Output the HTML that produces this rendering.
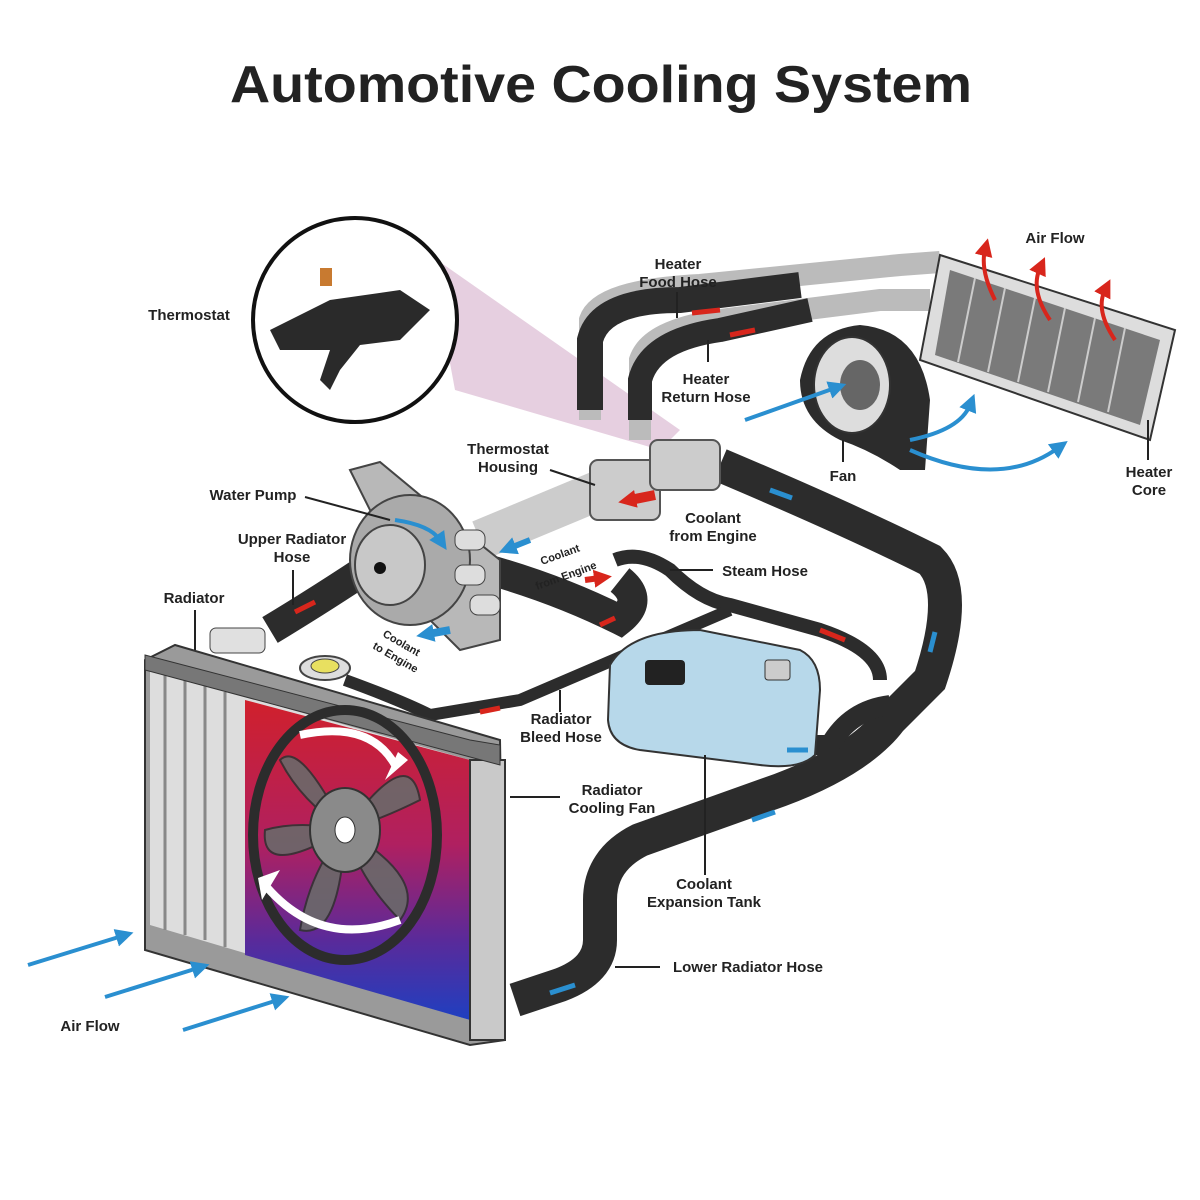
<!DOCTYPE html>
<html><head><meta charset="utf-8"><style>
html,body{margin:0;padding:0;background:#fff}
svg{display:block}
text{font-family:"Liberation Sans",Arial,sans-serif;font-weight:bold;fill:#222}
</style></head><body>
<svg width="1200" height="1200" viewBox="0 0 1200 1200" xmlns="http://www.w3.org/2000/svg">
<defs>
<linearGradient id="core" x1="0" y1="0" x2="0" y2="1">
<stop offset="0" stop-color="#d0202c"/><stop offset="0.45" stop-color="#b02060"/><stop offset="0.75" stop-color="#5a2a9a"/><stop offset="1" stop-color="#1f3fc0"/></linearGradient>
<marker id="bl" markerUnits="userSpaceOnUse" markerWidth="18" markerHeight="18" refX="6" refY="9" orient="auto"><path d="M0,0 L18,9 L0,18z" fill="#2a8fd0"/></marker>
<marker id="rd" markerUnits="userSpaceOnUse" markerWidth="18" markerHeight="18" refX="6" refY="9" orient="auto"><path d="M0,0 L18,9 L0,18z" fill="#d8261c"/></marker>
</defs>
<rect width="1200" height="1200" fill="#fff"/>
<text x="230" y="102" font-size="52" textLength="742" lengthAdjust="spacingAndGlyphs" fill="#111">Automotive Cooling System</text>

<!-- pink cone -->
<polygon points="430,255 455,390 660,450 680,430" fill="#e6cfe0"/>
<!-- thermostat circle -->
<circle cx="355" cy="320" r="102" fill="#fff" stroke="#111" stroke-width="4"/>
<path d="M270,330 L330,300 L400,290 L430,310 L400,340 L360,345 L340,370 L330,390 L320,380 L330,350 L280,350z" fill="#2a2a2a"/>
<rect x="320" y="268" width="12" height="18" fill="#c87a30"/>

<!-- heater pipes silver -->
<path d="M590,420 L590,320 Q600,290 700,285 L900,265 L940,262" fill="none" stroke="#bbb" stroke-width="22"/>
<path d="M640,440 L640,360 Q650,330 720,320 L880,300 L930,300" fill="none" stroke="#bbb" stroke-width="22"/>
<!-- dark heater hoses -->
<path d="M590,410 L590,340 Q600,300 680,300 L800,285" fill="none" stroke="#2c2c2c" stroke-width="26"/>
<path d="M640,420 L640,380 Q650,340 720,330 L810,310" fill="none" stroke="#2c2c2c" stroke-width="24"/>

<!-- big return hose to radiator lower -->
<path d="M720,465 Q850,520 930,560 Q960,590 930,680 L890,720 Q860,760 780,790 L640,840 Q600,860 600,900 L600,940 Q600,970 560,985 L515,1000" fill="none" stroke="#2c2c2c" stroke-width="34"/>
<!-- tank outlet hose -->
<path d="M780,745 L830,745 Q850,710 890,705" fill="none" stroke="#2c2c2c" stroke-width="20"/>

<!-- upper radiator hose -->
<path d="M270,630 Q320,600 380,560" fill="none" stroke="#2c2c2c" stroke-width="30"/>
<!-- hose pump to thermostat lower -->
<path d="M490,570 Q560,590 620,620 Q645,600 620,580" fill="none" stroke="#2c2c2c" stroke-width="30"/>
<!-- steam hose -->
<path d="M615,560 Q640,550 670,570 Q700,600 730,605 L820,630 Q880,650 880,680" fill="none" stroke="#2c2c2c" stroke-width="14"/>
<!-- bleed hose -->
<path d="M345,680 Q400,700 430,715 L520,700 L730,610" fill="none" stroke="#2c2c2c" stroke-width="12"/>

<!-- thermostat housing silver pipe -->
<path d="M480,540 L600,490" stroke="#ccc" stroke-width="40" fill="none"/>
<rect x="590" y="460" width="70" height="60" rx="8" fill="#ccc" stroke="#555" stroke-width="2"/>
<rect x="650" y="440" width="70" height="50" rx="8" fill="#ccc" stroke="#555" stroke-width="2"/>
<path d="M655,495 L630,500" stroke="#d8261c" stroke-width="10" marker-end="url(#rd)"/>
<path d="M530,540 L510,548" stroke="#2a8fd0" stroke-width="6" marker-end="url(#bl)"/>

<!-- water pump -->
<polygon points="350,470 380,462 450,520 500,560 500,640 460,650 420,610" fill="#b8b8b8" stroke="#444" stroke-width="2"/>
<ellipse cx="410" cy="560" rx="60" ry="65" fill="#aaa" stroke="#444" stroke-width="2"/>
<ellipse cx="390" cy="565" rx="35" ry="40" fill="#c8c8c8" stroke="#444" stroke-width="2"/>
<circle cx="380" cy="568" r="6" fill="#111"/>
<rect x="455" y="530" width="30" height="20" rx="8" fill="#ddd" stroke="#444"/>
<rect x="455" y="565" width="30" height="20" rx="8" fill="#ddd" stroke="#444"/>
<rect x="470" y="595" width="30" height="20" rx="8" fill="#ddd" stroke="#444"/>
<path d="M450,630 L428,634" stroke="#2a8fd0" stroke-width="8" marker-end="url(#bl)"/>
<path d="M395,520 Q430,525 440,540" stroke="#2a8fd0" stroke-width="4" fill="none" marker-end="url(#bl)"/>

<!-- radiator -->
<polygon points="145,660 175,645 500,740 505,1040 470,1045 145,950" fill="#9a9a9a" stroke="#333" stroke-width="2"/>
<polygon points="150,670 470,760 470,1020 150,925" fill="#ddd"/>
<polygon points="245,700 470,760 470,1020 245,955" fill="url(#core)"/>
<g stroke="#888" stroke-width="3">
<line x1="165" y1="675" x2="165" y2="930"/><line x1="185" y1="680" x2="185" y2="935"/><line x1="205" y1="686" x2="205" y2="940"/><line x1="225" y1="692" x2="225" y2="947"/></g>
<rect x="470" y="760" width="35" height="280" fill="#c9c9c9" stroke="#333" stroke-width="2"/>
<polygon points="145,655 470,740 500,745 500,765 145,670" fill="#777" stroke="#333"/>
<ellipse cx="325" cy="668" rx="25" ry="12" fill="#ddd" stroke="#444" stroke-width="2"/>
<ellipse cx="325" cy="666" rx="14" ry="7" fill="#e8e060" stroke="#444"/>
<rect x="210" y="628" width="55" height="25" rx="6" fill="#e0e0e0" stroke="#444"/>
<!-- fan -->
<ellipse cx="345" cy="835" rx="92" ry="125" fill="none" stroke="#2c2c2c" stroke-width="10"/>
<g fill="#6a6a6a" stroke="#333" stroke-width="2" opacity="0.9">
<path d="M345,830 Q300,740 280,760 Q300,800 345,830"/>
<path d="M345,830 Q410,740 420,800 Q380,820 345,830"/>
<path d="M345,830 Q430,880 400,920 Q360,880 345,830"/>
<path d="M345,830 Q340,940 300,930 Q310,870 345,830"/>
<path d="M345,830 Q260,880 265,830 Q300,820 345,830"/>
</g>
<ellipse cx="345" cy="830" rx="35" ry="42" fill="#8a8a8a" stroke="#333" stroke-width="2"/>
<ellipse cx="345" cy="830" rx="10" ry="13" fill="#fff" stroke="#333"/>
<path d="M300,735 Q370,720 395,765" fill="none" stroke="#fff" stroke-width="8"/>
<path d="M400,920 Q320,950 265,885" fill="none" stroke="#fff" stroke-width="8"/>
<polygon points="385,780 408,760 398,752" fill="#fff"/>
<polygon points="258,878 280,870 262,900" fill="#fff"/>

<!-- expansion tank -->
<path d="M610,665 Q630,630 700,630 L800,650 Q820,660 820,690 L815,755 Q800,770 760,765 L640,750 Q610,745 608,720z" fill="#b7d8ea" stroke="#333" stroke-width="2"/>
<rect x="645" y="660" width="40" height="25" rx="4" fill="#222"/>
<rect x="765" y="660" width="25" height="20" rx="3" fill="#ccc" stroke="#333"/>

<!-- heater core -->
<polygon points="940,255 1175,330 1150,440 920,360" fill="#ddd" stroke="#333" stroke-width="2"/>
<polygon points="950,270 1160,340 1140,425 935,355" fill="#7a7a7a"/>
<g stroke="#ccc" stroke-width="2">
<line x1="975" y1="278" x2="958" y2="362"/><line x1="1005" y1="288" x2="988" y2="372"/><line x1="1035" y1="298" x2="1018" y2="382"/><line x1="1065" y1="308" x2="1048" y2="392"/><line x1="1095" y1="318" x2="1078" y2="402"/><line x1="1125" y1="328" x2="1108" y2="412"/></g>
<!-- blower -->
<path d="M800,380 Q810,330 860,325 Q920,330 930,400 L925,470 L900,470 Q870,450 840,440 Q800,420 800,380z" fill="#2c2c2c"/>
<ellipse cx="852" cy="385" rx="38" ry="48" fill="#ddd" stroke="#333" stroke-width="2"/>
<ellipse cx="860" cy="385" rx="20" ry="25" fill="#666"/>
<!-- arrows blue -->
<g stroke="#2a8fd0" stroke-width="4" fill="none">
<path d="M745,420 L835,388" marker-end="url(#bl)"/>
<path d="M910,440 Q960,430 970,405" marker-end="url(#bl)"/>
<path d="M910,450 Q1000,490 1058,448" marker-end="url(#bl)"/>
<path d="M28,965 L122,936" marker-end="url(#bl)"/>
<path d="M105,997 L198,968" marker-end="url(#bl)"/>
<path d="M183,1030 L278,1000" marker-end="url(#bl)"/>
</g>
<g stroke="#d8261c" stroke-width="4" fill="none">
<path d="M995,300 Q980,270 985,250" marker-end="url(#rd)"/>
<path d="M1050,320 Q1030,290 1040,268" marker-end="url(#rd)"/>
<path d="M1115,340 Q1095,310 1105,290" marker-end="url(#rd)"/>
<path d="M585,580 L600,578" stroke-width="6" marker-end="url(#rd)"/>
</g>
<!-- hose small arrows -->
<g stroke="#2a8fd0" stroke-width="5">
<line x1="770" y1="490" x2="792" y2="498"/><line x1="930" y1="652" x2="935" y2="632"/><line x1="787" y1="750" x2="808" y2="750"/><line x1="752" y1="820" x2="775" y2="812"/><line x1="550" y1="993" x2="575" y2="985"/></g>
<g stroke="#d8261c" stroke-width="5">
<line x1="295" y1="612" x2="315" y2="602"/><line x1="692" y1="313" x2="720" y2="310"/><line x1="755" y1="330" x2="730" y2="335"/><line x1="600" y1="625" x2="615" y2="618"/><line x1="820" y1="630" x2="845" y2="640"/><line x1="480" y1="712" x2="500" y2="708"/></g>

<!-- leader lines -->
<g stroke="#222" stroke-width="2" fill="none">
<line x1="305" y1="497" x2="390" y2="520"/><line x1="293" y1="570" x2="293" y2="605"/><line x1="195" y1="610" x2="195" y2="650"/>
<line x1="550" y1="470" x2="595" y2="485"/><line x1="677" y1="292" x2="677" y2="318"/><line x1="708" y1="362" x2="708" y2="340"/>
<line x1="843" y1="462" x2="843" y2="440"/><line x1="1148" y1="460" x2="1148" y2="420"/><line x1="713" y1="570" x2="670" y2="570"/>
<line x1="560" y1="712" x2="560" y2="690"/><line x1="560" y1="797" x2="510" y2="797"/><line x1="705" y1="875" x2="705" y2="755"/><line x1="660" y1="967" x2="615" y2="967"/>
</g>
<!-- labels -->
<g font-size="15" text-anchor="middle">
<text x="189" y="320">Thermostat</text>
<text x="678" y="269">Heater</text><text x="678" y="287">Food Hose</text>
<text x="706" y="384">Heater</text><text x="706" y="402">Return Hose</text>
<text x="1055" y="243">Air Flow</text>
<text x="508" y="454">Thermostat</text><text x="508" y="472">Housing</text>
<text x="253" y="500">Water Pump</text>
<text x="292" y="544">Upper Radiator</text><text x="292" y="562">Hose</text>
<text x="194" y="603">Radiator</text>
<text x="713" y="523">Coolant</text><text x="713" y="541">from Engine</text>
<text x="843" y="481">Fan</text>
<text x="1149" y="477">Heater</text><text x="1149" y="495">Core</text>
<text x="765" y="576">Steam Hose</text>
<text x="561" y="724">Radiator</text><text x="561" y="742">Bleed Hose</text>
<text x="612" y="795">Radiator</text><text x="612" y="813">Cooling Fan</text>
<text x="704" y="889">Coolant</text><text x="704" y="907">Expansion Tank</text>
<text x="748" y="972">Lower Radiator Hose</text>
<text x="90" y="1031">Air Flow</text>
</g>
<g font-size="11"><text transform="translate(537,590) rotate(-20)">from Engine</text><text transform="translate(542,565) rotate(-20)">Coolant</text>
<text transform="translate(382,636) rotate(30)">Coolant</text><text transform="translate(372,648) rotate(30)">to Engine</text></g>
</svg>
</body></html>
